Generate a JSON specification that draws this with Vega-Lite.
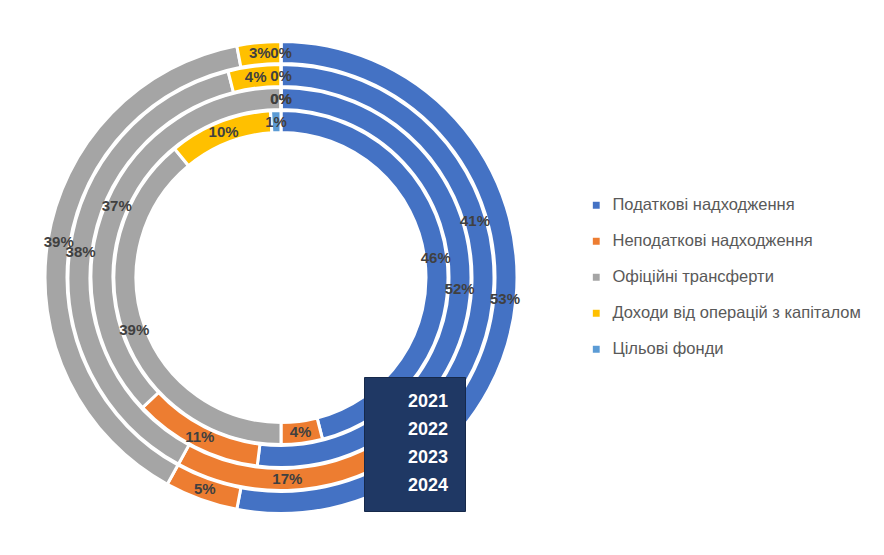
{
"$schema":"https://vega.github.io/schema/vega-lite/v6.json",
"width":562,"height":555,
"autosize":{"type":"none"},
"padding":{"left":0,"top":0,"bottom":0,"right":322},
"background":"white",
"config":{"view":{"stroke":null},"font":"Liberation Sans"},
"data":{"values":[
{"year":"2021","cat":"Податкові надходження","k":1,"v":46},
{"year":"2021","cat":"Неподаткові надходження","k":2,"v":4},
{"year":"2021","cat":"Офіційні трансферти","k":3,"v":39},
{"year":"2021","cat":"Доходи від операцій з капіталом","k":4,"v":10},
{"year":"2021","cat":"Цільові фонди","k":5,"v":1},
{"year":"2022","cat":"Податкові надходження","k":1,"v":52},
{"year":"2022","cat":"Неподаткові надходження","k":2,"v":11},
{"year":"2022","cat":"Офіційні трансферти","k":3,"v":37},
{"year":"2022","cat":"Доходи від операцій з капіталом","k":4,"v":0},
{"year":"2022","cat":"Цільові фонди","k":5,"v":0},
{"year":"2023","cat":"Податкові надходження","k":1,"v":41},
{"year":"2023","cat":"Неподаткові надходження","k":2,"v":17},
{"year":"2023","cat":"Офіційні трансферти","k":3,"v":38},
{"year":"2023","cat":"Доходи від операцій з капіталом","k":4,"v":4},
{"year":"2023","cat":"Цільові фонди","k":5,"v":0},
{"year":"2024","cat":"Податкові надходження","k":1,"v":53},
{"year":"2024","cat":"Неподаткові надходження","k":2,"v":5},
{"year":"2024","cat":"Офіційні трансферти","k":3,"v":39},
{"year":"2024","cat":"Доходи від операцій з капіталом","k":4,"v":3},
{"year":"2024","cat":"Цільові фонди","k":5,"v":0}
]},
"encoding":{
"theta":{"field":"v","type":"quantitative","stack":true},
"order":{"field":"k","type":"quantitative"}
},
"layer":[
{"transform":[{"filter":"datum.year==='2021'"}],"mark":{"type":"arc","radius":167,"radius2":145,"stroke":"white","strokeWidth":3},
 "encoding":{"color":{"field":"cat","type":"nominal","sort":{"field":"k"},
  "scale":{"domain":["Податкові надходження","Неподаткові надходження","Офіційні трансферти","Доходи від операцій з капіталом","Цільові фонди"],"range":["#4472C4","#ED7D31","#A5A5A5","#FFC000","#5B9BD5"]},
  "legend":{"title":null,"orient":"none","legendX":588,"legendY":197,"symbolType":"square","symbolSize":70,"labelFontSize":16.5,"labelColor":"#595959","rowPadding":19,"labelOffset":8,"labelLimit":400}},
  "opacity":{"field":"year","type":"ordinal","scale":{"domain":["2021","2022","2023","2024"],"range":[1,1,1,1]},
  "legend":{"title":null,"orient":"none","legendX":364,"legendY":377,"fillColor":"#1F3864","strokeColor":"#16294a","padding":16,"symbolSize":0,"symbolOpacity":0,"symbolStrokeWidth":0,"symbolOffset":0,"labelColor":"white","labelFontSize":18,"labelFontWeight":"bold","rowPadding":10,"labelOffset":10,"labelFont":"Liberation Sans"}}}},
{"transform":[{"filter":"datum.year==='2022'"}],"mark":{"type":"arc","radius":190,"radius2":168,"stroke":"white","strokeWidth":3},"encoding":{"color":{"field":"cat","type":"nominal"},"opacity":{"field":"year","type":"ordinal"}}},
{"transform":[{"filter":"datum.year==='2023'"}],"mark":{"type":"arc","radius":213,"radius2":191,"stroke":"white","strokeWidth":3},"encoding":{"color":{"field":"cat","type":"nominal"},"opacity":{"field":"year","type":"ordinal"}}},
{"transform":[{"filter":"datum.year==='2024'"}],"mark":{"type":"arc","radius":236,"radius2":214,"stroke":"white","strokeWidth":3},"encoding":{"color":{"field":"cat","type":"nominal"},"opacity":{"field":"year","type":"ordinal"}}},
{"transform":[{"filter":"datum.year==='2021'"},{"calculate":"datum.v+'%'","as":"lab"}],"mark":{"type":"text","radius":156,"fontSize":15,"fontWeight":"bold","fill":"#404040"},"encoding":{"text":{"field":"lab"}}},
{"transform":[{"filter":"datum.year==='2022'"},{"calculate":"datum.v+'%'","as":"lab"}],"mark":{"type":"text","radius":179,"fontSize":15,"fontWeight":"bold","fill":"#404040"},"encoding":{"text":{"field":"lab"}}},
{"transform":[{"filter":"datum.year==='2023'"},{"calculate":"datum.v+'%'","as":"lab"}],"mark":{"type":"text","radius":202,"fontSize":15,"fontWeight":"bold","fill":"#404040"},"encoding":{"text":{"field":"lab"}}},
{"transform":[{"filter":"datum.year==='2024'"},{"calculate":"datum.v+'%'","as":"lab"}],"mark":{"type":"text","radius":225,"fontSize":15,"fontWeight":"bold","fill":"#404040"},"encoding":{"text":{"field":"lab"}}}
]
}
